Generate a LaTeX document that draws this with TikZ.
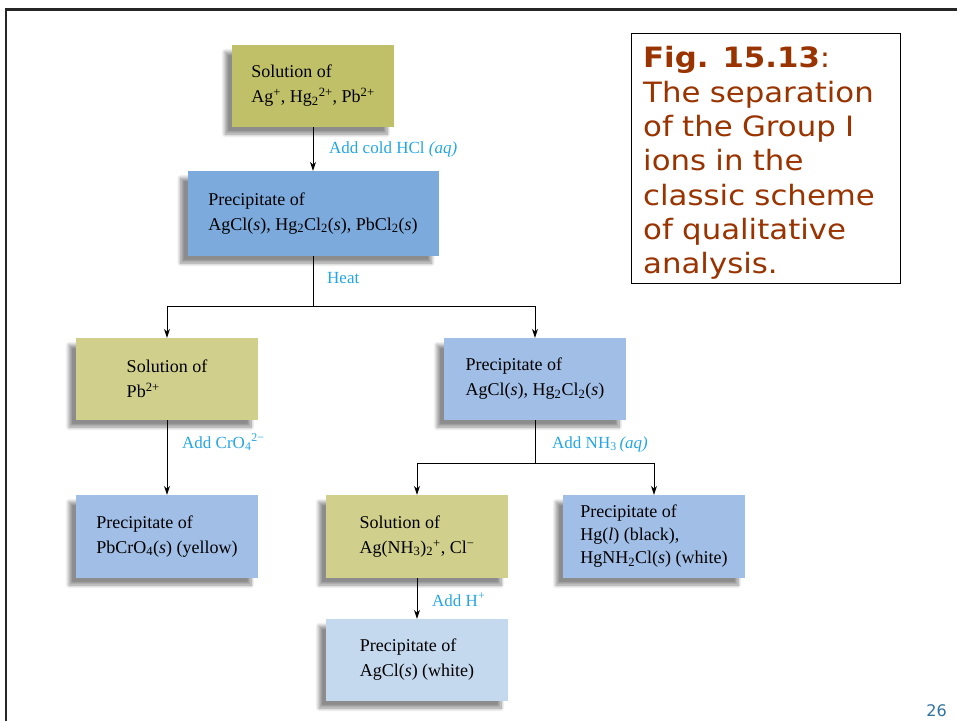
\documentclass[tikz,border=0pt]{standalone}
\usepackage{fontspec}
\setmainfont{Liberation Serif}
\newfontfamily\capfont[FakeStretch=1.1]{DejaVu Sans}
\newfontfamily\numfont{DejaVu Sans}
\usetikzlibrary{arrows.meta,shadows.blur}
\definecolor{oliveA}{RGB}{192,192,104}
\definecolor{oliveB}{RGB}{208,208,140}
\definecolor{blueA}{RGB}{124,170,220}
\definecolor{blueB}{RGB}{160,190,230}
\definecolor{blueC}{RGB}{196,216,238}
\definecolor{addblue}{RGB}{36,166,228}
\definecolor{capbrown}{RGB}{153,51,0}
\definecolor{numblue}{RGB}{47,115,160}
\begin{document}
\begin{tikzpicture}[x=1pt,y=-1pt,
  box/.style={rectangle,minimum width=182pt,minimum height=82pt,align=left,
    font=\fontsize{18}{25}\selectfont,
    blur shadow={shadow xshift=-7pt,shadow yshift=-7pt,shadow opacity=45,
      shadow blur radius=3.5pt,shadow blur steps=10}},
  addlbl/.style={anchor=base west,inner sep=0pt,text=addblue,font=\fontsize{17}{20}\selectfont},
  arr/.style={line width=0.9pt,-{Stealth[length=9pt,width=6pt]}},
  link/.style={line width=0.9pt}]
\useasboundingbox (0,0) rectangle (957,721);
\draw[line width=2.5pt,black!85] (6,721) -- (6,9.5) -- (957,9.5);
\node[box,fill=oliveA,minimum width=162pt] (solA) at (313,86)
  {Solution of\\Ag\textsuperscript{+}, Hg\textsubscript{2}\textsuperscript{2+}, Pb\textsuperscript{2+}};
\node[box,fill=blueA,minimum width=251pt,minimum height=85pt] (precA) at (313,213.5)
  {Precipitate of\\AgCl(\textit{s}), Hg\textsubscript{2}Cl\textsubscript{2}(\textit{s}), PbCl\textsubscript{2}(\textit{s})};
\node[box,fill=oliveB] (solPb) at (167,379) {Solution of\\Pb\textsuperscript{2+}};
\node[box,fill=blueB] (precB) at (535,379)
  {Precipitate of\\AgCl(\textit{s}), Hg\textsubscript{2}Cl\textsubscript{2}(\textit{s})};
\node[box,fill=blueB,minimum height=83pt] (precPb) at (167,536.5)
  {Precipitate of\\PbCrO\textsubscript{4}(\textit{s}) (yellow)};
\node[box,fill=oliveB,minimum height=83pt] (solAg) at (417,536.5)
  {Solution of\\Ag(NH\textsubscript{3})\textsubscript{2}\textsuperscript{+}, Cl\textsuperscript{−}};
\node[box,fill=blueB,minimum height=83pt,font=\fontsize{18}{23}\selectfont] (precHg) at (654,536.5)
  {Precipitate of\\Hg(\textit{l}) (black),\\HgNH\textsubscript{2}Cl(\textit{s}) (white)};
\node[box,fill=blueC] (precAg) at (417,660) {Precipitate of\\AgCl(\textit{s}) (white)};
\coordinate (heat) at (313,306);
\coordinate (nhsplit) at (535,463);
\draw[arr] (solA) -- (precA);
\draw[link] (precA) -- (heat);
\draw[arr] (heat) -| (solPb);
\draw[arr] (heat) -| (precB);
\draw[arr] (solPb) -- (precPb);
\draw[link] (precB) -- (nhsplit);
\draw[arr] (nhsplit) -| (solAg);
\draw[arr] (nhsplit) -| (precHg);
\draw[arr] (solAg) -- (precAg);
\node[addlbl] (lblHCl) at (329,153) {Add cold HCl \textit{(aq)}};
\node[addlbl] (lblHeat) at (327,283) {Heat};
\node[addlbl] (lblCrO) at (182,448) {Add CrO\textsubscript{4}\textsuperscript{2−}};
\node[addlbl] (lblNH) at (552,448) {Add NH\textsubscript{3}\,\textit{(aq)}};
\node[addlbl] (lblH) at (432,606) {Add H\textsuperscript{+}};
\draw[line width=0.7pt] (631,33) rectangle (900,283);
\node[anchor=north west,inner sep=0pt,text width=250pt,align=left,text=capbrown,
  font=\capfont\fontsize{28}{34.3}\selectfont] (caption) at (643,46.5)
  {\textbf{Fig. 15.13}:\\The separation\\of the Group I\\ions in the\\classic scheme\\of qualitative\\analysis.};
\node[anchor=base east,inner sep=0pt,text=numblue,font=\numfont\fontsize{16}{19}\selectfont] (pagenum) at (947,716) {26};
\end{tikzpicture}
\end{document}
